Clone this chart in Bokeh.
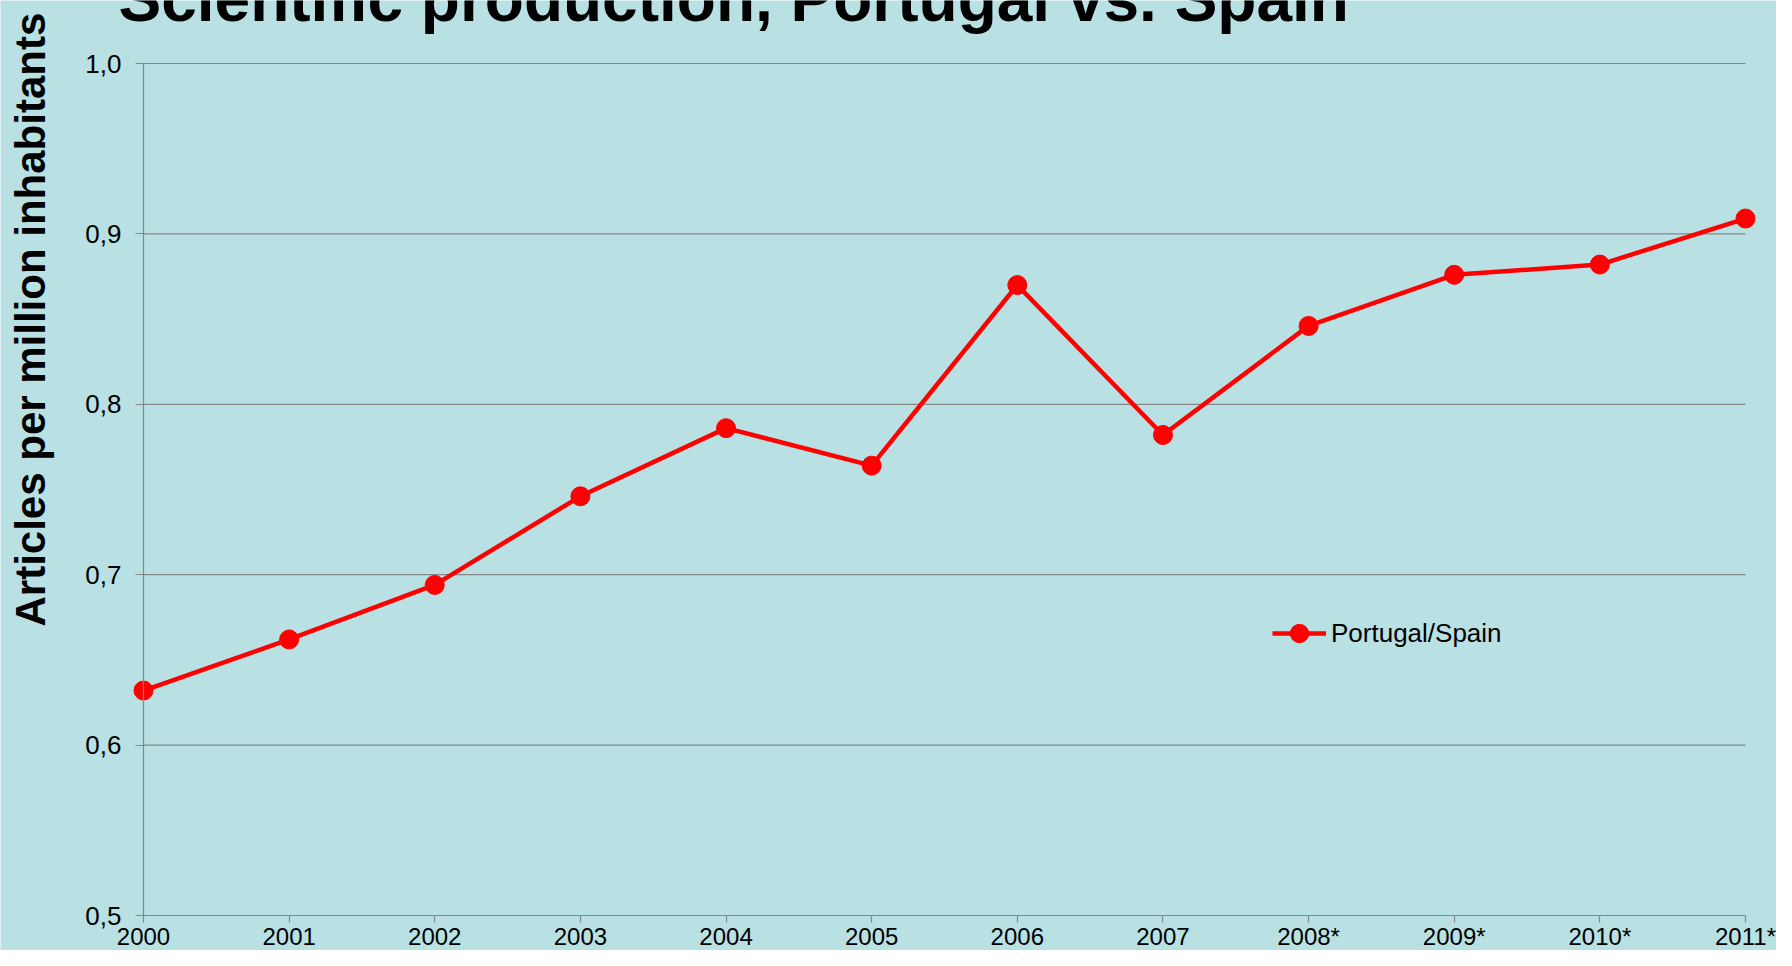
import math
from bokeh.plotting import figure
from bokeh.models import Range1d, FixedTicker, Label, Legend
from bokeh.embed import file_html
from bokeh.resources import INLINE

# ---- data ----
categories = ["2000", "2001", "2002", "2003", "2004", "2005", "2006", "2007",
              "2008*", "2009*", "2010*", "2011*"]
ratio = [0.632, 0.662, 0.694, 0.746, 0.786, 0.764, 0.870, 0.782,
         0.846, 0.876, 0.882, 0.909]
series_name = "Portugal/Spain"
y_ticks = [0.5, 0.6, 0.7, 0.8, 0.9, 1.0]
y_tick_labels = ["0,5", "0,6", "0,7", "0,8", "0,9", "1,0"]
title_text = "Scientific production, Portugal vs. Spain"
y_label_text = "Articles per million inhabitants"

# ---- layout (pixels on the canvas) ----
W, H = 1776, 950
AX_L, AX_R, AX_T, AX_B = 143, 1745, 63, 915   # plot-area box in canvas pixels

BG = "#B9E0E3"
GRID = "#878787"
FONT = "Liberation Sans"

xs = list(range(len(categories)))
x0, x1 = xs[0], xs[-1]
y0, y1 = y_ticks[0], y_ticks[-1]
ppx = (AX_R - AX_L) / (x1 - x0)
ppy = (AX_B - AX_T) / (y1 - y0)
x_range = Range1d(x0 - AX_L / ppx, x1 + (W - AX_R) / ppx)
y_range = Range1d(y0 - (H - AX_B) / ppy, y1 + AX_T / ppy)

p = figure(width=W, height=H, output_backend="svg", toolbar_location=None,
           x_range=x_range, y_range=y_range,
           min_border_left=0, min_border_right=0,
           min_border_top=0, min_border_bottom=0)
p.background_fill_color = BG
p.border_fill_color = BG
p.outline_line_color = None
p.xgrid.grid_line_color = None
p.ygrid.grid_line_color = None

# horizontal grid lines spanning the categories
p.segment(x0=x0, x1=x1, y0=y_ticks[1:], y1=y_ticks[1:],
          line_color=GRID, line_width=1.2, level="underlay")

# axes
xa = p.xaxis[0]
xa.fixed_location = y0
xa.bounds = (x0, x1)
xa.ticker = FixedTicker(ticks=xs)
xa.major_label_overrides = {i: c for i, c in zip(xs, categories)}
xa.axis_line_color = GRID
xa.axis_line_width = 1.2
xa.major_tick_line_color = GRID
xa.major_tick_line_width = 1.2
xa.major_tick_out = 7
xa.major_tick_in = 0
xa.minor_tick_line_color = None
xa.major_label_standoff = 0
xa.major_label_text_font = FONT
xa.major_label_text_font_size = "24px"
xa.major_label_text_color = "black"

ya = p.yaxis[0]
ya.fixed_location = x0
ya.bounds = (y0, y1)
ya.ticker = FixedTicker(ticks=y_ticks)
ya.major_label_overrides = {v: t for v, t in zip(y_ticks, y_tick_labels)}
ya.axis_line_color = GRID
ya.axis_line_width = 1.2
ya.major_tick_line_color = GRID
ya.major_tick_line_width = 1.2
ya.major_tick_out = 8
ya.major_tick_in = 0
ya.minor_tick_line_color = None
ya.major_label_standoff = 14
ya.major_label_text_font = FONT
ya.major_label_text_font_size = "26px"
ya.major_label_text_color = "black"

# series
ln = p.line(xs, ratio, line_color="#FF0000", line_width=4.5)
sc = p.scatter(xs, ratio, size=19, fill_color="#FF0000", line_color="#FF0000")

legend = Legend(items=[(series_name, [ln, sc])], location=(1272, 294),
                glyph_width=54, glyph_height=46, label_height=46,
                label_standoff=5, padding=0, margin=0, spacing=0,
                border_line_color=None, background_fill_alpha=0,
                label_text_font=FONT, label_text_font_size="26px",
                label_text_color="black")
p.add_layout(legend, "center")

# title (cut at the top, like the slide)
p.add_layout(Label(x=118, y=H + 2, x_units="screen", y_units="screen",
                   text=title_text, text_font=FONT, text_font_size="64px",
                   text_font_style="bold", text_color="black",
                   text_align="left", text_baseline="alphabetic"))

# y axis title
p.add_layout(Label(x=30, y=H - 626, x_units="screen", y_units="screen",
                   text=y_label_text, angle=math.pi / 2,
                   text_font=FONT, text_font_size="42px",
                   text_font_style="bold", text_color="black",
                   text_align="left", text_baseline="alphabetic"))

open("out.html", "w").write(file_html(p, INLINE))
